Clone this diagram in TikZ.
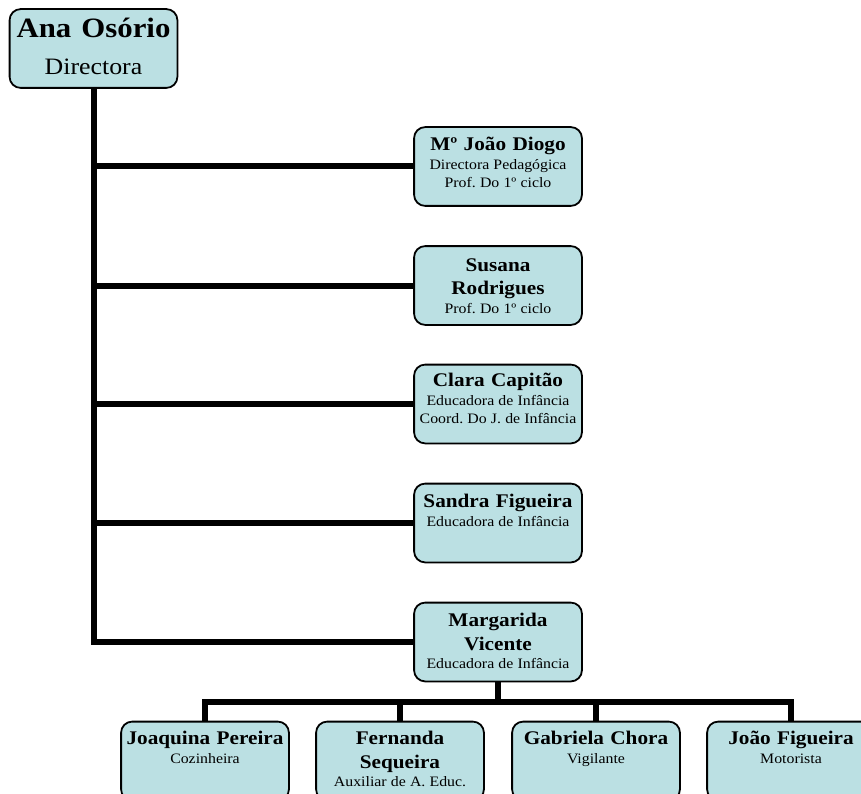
\documentclass[tikz,border=0pt]{standalone}
\usepackage{fontspec}
\setmainfont{Liberation Serif}[FakeStretch=1.1]
\definecolor{boxfill}{RGB}{187,224,227}
\newcommand\anaf{\fontsize{28}{37}\selectfont\bfseries\spaceskip=0.36em}
\newcommand\dirf{\fontsize{23.5}{37}\selectfont\spaceskip=0.3em}
\newcommand\nmf{\fontsize{19.3}{23.5}\selectfont\bfseries\spaceskip=0.33em}
\newcommand\subf{\fontsize{14.4}{18.4}\selectfont\spaceskip=0.29em}
\tikzset{
  box/.style={draw=black, line width=1.8pt, fill=boxfill, rounded corners=11pt,
    minimum width=166pt, minimum height=77pt, inner sep=0pt, rectangle},
  txt/.style={anchor=north, inner sep=0pt, text width=172pt, align=center,
    execute at begin node=\frenchspacing},
  conn/.style={draw=black, line width=6pt, line join=miter}
}
\begin{document}
\begin{tikzpicture}[x=1pt,y=-1pt]
\useasboundingbox (0,0) rectangle (861,794);
% boxes
\node[box] (ana) at (93.5,48.5) {};
\node[box] (m1) at (498,166.5) {};
\node[box] (m2) at (498,285.5) {};
\node[box] (m3) at (498,404) {};
\node[box] (m4) at (498,523) {};
\node[box] (m5) at (498,642) {};
\node[box] (s1) at (205,761) {};
\node[box] (s2) at (400,761) {};
\node[box] (s3) at (596,761) {};
\node[box] (s4) at (791,761) {};
% connectors
\coordinate (bus) at (498,702);
\draw[conn] (ana.south) -- (ana.south |- m5.west) -- (m5.west);
\foreach \m in {m1,m2,m3,m4}{\draw[conn] (ana.south |- \m.west) -- (\m.west);}
\draw[conn] (m5.south) -- (bus);
\draw[conn] (s1.north) -- (s1.north |- bus) -- (s4.north |- bus) -- (s4.north);
\draw[conn] (s2.north) -- (s2.north |- bus);
\draw[conn] (s3.north) -- (s3.north |- bus);
% redraw box outlines over line ends
\foreach \b in {ana,m1,m2,m3,m4,m5,s1,s2,s3,s4}{\draw[box] (\b.south west) rectangle (\b.north east);}
% texts
\node[txt] (anat) at ([yshift=-1pt]ana.north) {{\anaf\rule{0pt}{27pt}Ana Osório\par}{\dirf Directora\par}};
\node[txt] (m1t) at ([yshift=-5pt]m1.north) {{\nmf\rule{0pt}{18.5pt}Mº João Diogo\par}{\subf Directora Pedagógica\par Prof. Do 1º ciclo\par}};
\node[txt] (m2t) at ([yshift=-6.5pt]m2.north) {{\nmf\rule{0pt}{18.5pt}Susana\par Rodrigues\par}{\subf Prof. Do 1º ciclo\par}};
\node[txt] (m3t) at ([yshift=-3.5pt]m3.north) {{\nmf\rule{0pt}{18.5pt}Clara Capitão\par}{\subf Educadora de Infância\par Coord. Do J. de Infância\par}};
\node[txt] (m4t) at ([yshift=-5.5pt]m4.north) {{\nmf\rule{0pt}{18.5pt}Sandra Figueira\par}{\subf Educadora de Infância\par}};
\node[txt] (m5t) at ([yshift=-5.5pt]m5.north) {{\nmf\rule{0pt}{18.5pt}Margarida\par Vicente\par}{\subf Educadora de Infância\par}};
\node[txt] (s1t) at ([yshift=-4.5pt]s1.north) {{\nmf\rule{0pt}{18.5pt}Joaquina Pereira\par}{\subf Cozinheira\par}};
\node[txt] (s2t) at ([yshift=-4.5pt]s2.north) {{\nmf\rule{0pt}{18.5pt}Fernanda\par Sequeira\par}{\subf Auxiliar de A. Educ.\par}};
\node[txt] (s3t) at ([yshift=-4.5pt]s3.north) {{\nmf\rule{0pt}{18.5pt}Gabriela Chora\par}{\subf Vigilante\par}};
\node[txt] (s4t) at ([yshift=-4.5pt]s4.north) {{\nmf\rule{0pt}{18.5pt}João Figueira\par}{\subf Motorista\par}};
\end{tikzpicture}
\end{document}
